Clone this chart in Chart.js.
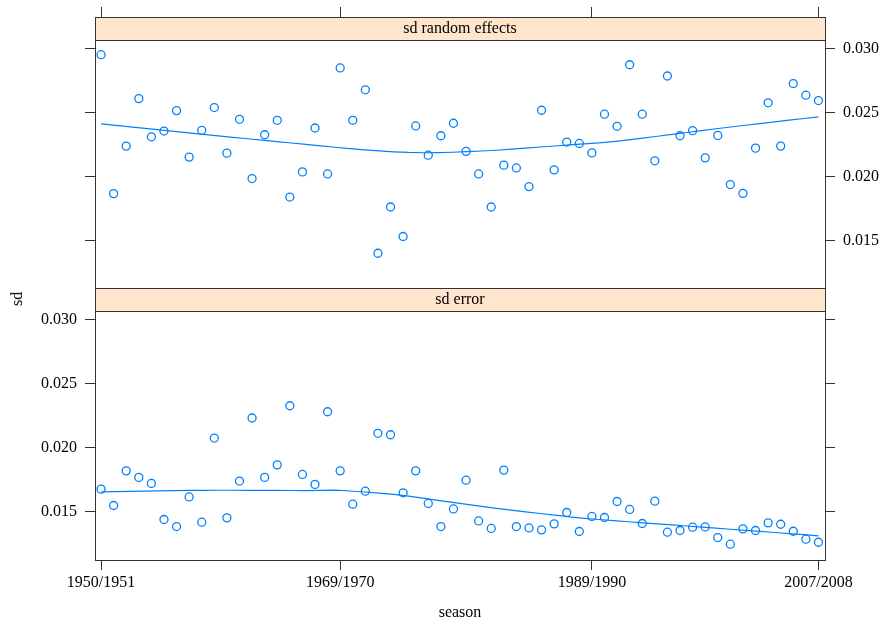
<!DOCTYPE html>
<html>
<head>
<meta charset="utf-8">
<script src="https://cdn.jsdelivr.net/npm/chart.js@4/dist/chart.umd.min.js"></script>
<style>
  html, body { margin: 0; padding: 0; background: #fff; }
  #wrap { position: relative; width: 886px; height: 628px; overflow: hidden; }
  #wrap canvas { position: absolute; left: 0; top: 0; }
  #ylab { position: absolute; left: 17px; top: 299px; font: 16px "Liberation Serif", serif; color: #000;
          transform: translate(-50%, -50%) rotate(-90deg); white-space: nowrap; }
</style>
</head>
<body>
<div id="wrap">
  <canvas id="c1" width="886" height="628"></canvas>
  <canvas id="c2" width="886" height="628"></canvas>
  <div id="ylab">sd</div>
</div>
<script>
const seasons = ['1950/1951','1951/1952','1952/1953','1953/1954','1954/1955','1955/1956','1956/1957','1957/1958','1958/1959','1959/1960',
  '1960/1961','1961/1962','1962/1963','1963/1964','1964/1965','1965/1966','1966/1967','1967/1968','1968/1969','1969/1970',
  '1970/1971','1971/1972','1972/1973','1973/1974','1974/1975','1975/1976','1976/1977','1977/1978','1978/1979','1979/1980',
  '1980/1981','1981/1982','1982/1983','1983/1984','1984/1985','1985/1986','1986/1987','1987/1988','1988/1989','1989/1990',
  '1990/1991','1991/1992','1992/1993','1993/1994','1994/1995','1995/1996','1996/1997','1997/1998','1998/1999','1999/2000',
  '2000/2001','2001/2002','2002/2003','2003/2004','2004/2005','2005/2006','2006/2007','2007/2008'];

const sdRandomEffects = [0.02955,0.01867,0.02239,0.02611,0.02312,0.02357,0.02517,0.02153,0.02363,0.02541,
  0.02184,0.02449,0.01985,0.02328,0.02441,0.01840,0.02037,0.02381,0.02021,0.02851,
  0.02441,0.02680,0.01400,0.01762,0.01531,0.02397,0.02168,0.02320,0.02418,0.02198,
  0.02021,0.01762,0.02090,0.02068,0.01922,0.02520,0.02053,0.02271,0.02260,0.02186,
  0.02489,0.02394,0.02876,0.02489,0.02124,0.02788,0.02320,0.02360,0.02147,0.02323,
  0.01938,0.01869,0.02223,0.02578,0.02239,0.02729,0.02638,0.02596];

const sdError = [0.01675,0.01547,0.01818,0.01767,0.01720,0.01437,0.01382,0.01614,0.01416,0.02075,
  0.01450,0.01738,0.02232,0.01767,0.01865,0.02328,0.01790,0.01712,0.02281,0.01818,
  0.01557,0.01659,0.02112,0.02101,0.01646,0.01818,0.01563,0.01382,0.01520,0.01745,
  0.01426,0.01367,0.01824,0.01382,0.01371,0.01356,0.01403,0.01492,0.01343,0.01461,
  0.01453,0.01578,0.01516,0.01406,0.01581,0.01338,0.01351,0.01377,0.01379,0.01296,
  0.01244,0.01364,0.01351,0.01411,0.01400,0.01345,0.01283,0.01259];

const xTickSeasons = ['1950/1951','1969/1970','1989/1990','2007/2008'];
const yTicks = [0.015, 0.020, 0.025, 0.030];
const panelTitles = ['sd random effects', 'sd error'];

const COL = '#0080ff';
const AX = '#333333';
const FONT = '"Liberation Serif", "Times New Roman", serif';
Chart.defaults.font.family = FONT;
Chart.defaults.font.size = 16;
Chart.defaults.color = '#000';

// loess smoother (degree 1, span 2/3, symmetric family) as lattice's panel.loess
function loess(xs, ys, span, evalXs, iterations) {
  const n = xs.length;
  const q = Math.floor(n * span);
  let robust = new Array(n).fill(1);
  function fitAt(x0) {
    const d = xs.map(x => Math.abs(x - x0));
    const sorted = d.slice().sort((a, b) => a - b);
    const h = sorted[q - 1] * 1.000001;
    let sw = 0, sx = 0, sy = 0;
    const w = new Array(n);
    for (let i = 0; i < n; i++) {
      const u = d[i] / h;
      w[i] = u < 1 ? Math.pow(1 - u * u * u, 3) * robust[i] : 0;
      sw += w[i]; sx += w[i] * xs[i]; sy += w[i] * ys[i];
    }
    const mx = sx / sw, my = sy / sw;
    let sxx = 0, sxy = 0;
    for (let i = 0; i < n; i++) { sxx += w[i] * (xs[i] - mx) ** 2; sxy += w[i] * (xs[i] - mx) * (ys[i] - my); }
    const b = sxx > 0 ? sxy / sxx : 0;
    return my + b * (x0 - mx);
  }
  for (let it = 0; it < iterations; it++) {
    if (it === iterations - 1) break;
    const res = xs.map((x, i) => ys[i] - fitAt(x));
    const abs = res.map(Math.abs).sort((a, b) => a - b);
    const med = n % 2 ? abs[(n - 1) / 2] : (abs[n / 2 - 1] + abs[n / 2]) / 2;
    const c = 6 * med;
    robust = res.map(r => { const u = Math.abs(r) / c; return u < 1 ? (1 - u * u) ** 2 : 0; });
  }
  return evalXs.map(x => ({ x: x, y: fitAt(x) }));
}

const idx = seasons.map((s, i) => i);
const evalXs = [];
for (let k = 0; k < 50; k++) evalXs.push(idx[0] + (idx[idx.length - 1] - idx[0]) * k / 49);

const X_MIN = -0.48, X_MAX = 57.52;
const Y_MIN = 0.0112, Y_MAX = 0.0307;

const xTickIdx = xTickSeasons.map(s => seasons.indexOf(s));

const stripPlugin = {
  id: 'strip',
  afterDraw(chart, args, opts) {
    const { ctx, chartArea: a } = chart;
    ctx.save();
    ctx.fillStyle = '#ffe5cc';
    ctx.fillRect(a.left, a.top - 23, a.right - a.left, 23);
    ctx.strokeStyle = AX;
    ctx.lineWidth = 1;
    ctx.strokeRect(Math.round(a.left) + 0.5, Math.round(a.top - 23) + 0.5, Math.round(a.right - a.left), 23);
    ctx.strokeRect(Math.round(a.left) + 0.5, Math.round(a.top) + 0.5, Math.round(a.right - a.left), Math.round(a.bottom - a.top));
    ctx.fillStyle = '#000';
    ctx.font = '16px ' + FONT;
    ctx.textAlign = 'center';
    ctx.textBaseline = 'middle';
    ctx.fillText(opts.title, (a.left + a.right) / 2, a.top - 11);
    ctx.restore();
  }
};

function yAxis(pos, width, showLabels, pad) {
  return {
    type: 'linear', position: pos, min: Y_MIN, max: Y_MAX,
    afterBuildTicks: s => { s.ticks = yTicks.map(v => ({ value: v })); },
    afterFit: s => { s.width = width; },
    grid: { drawOnChartArea: false, drawTicks: true, tickLength: 10, color: AX },
    border: { display: true, color: AX },
    ticks: { display: showLabels, padding: pad, callback: v => Number(v).toFixed(3) }
  };
}

function makePanel(canvasId, values, title, top) {
  const pts = values.map((v, i) => ({ x: idx[i], y: v }));
  const smooth = loess(idx, values, 2 / 3, evalXs, 4);
  const scales = top ? {
    x: {
      type: 'linear', position: 'top', min: X_MIN, max: X_MAX,
      afterBuildTicks: s => { s.ticks = xTickIdx.map(v => ({ value: v })); },
      afterFit: s => { s.height = 33; },
      grid: { drawOnChartArea: false, drawTicks: true, tickLength: 33, color: AX },
      border: { display: true, color: AX },
      ticks: { display: false }
    },
    y: yAxis('left', 10, false, 0),
    yr: yAxis('right', 61, true, 8)
  } : {
    x: {
      type: 'linear', position: 'bottom', min: X_MIN, max: X_MAX,
      afterBuildTicks: s => { s.ticks = xTickIdx.map(v => ({ value: v })); },
      afterFit: s => { s.height = 68; },
      grid: { drawOnChartArea: false, drawTicks: true, tickLength: 10, color: AX },
      border: { display: true, color: AX },
      ticks: { display: true, padding: 3, autoSkip: false, maxRotation: 0,
               callback: v => seasons[Math.round(v)] },
      title: { display: true, text: 'season', padding: { top: 0, bottom: 6 } }
    },
    y: yAxis('left', 95, true, 8),
    yr: yAxis('right', 10, false, 0)
  };
  return new Chart(document.getElementById(canvasId), {
    type: 'scatter',
    data: {
      datasets: [
        { data: pts, showLine: false, pointStyle: 'circle', pointRadius: 4, pointHoverRadius: 4,
          borderColor: COL, backgroundColor: 'rgba(0,0,0,0)', pointBorderWidth: 1.3, borderWidth: 1.3 },
        { data: smooth, showLine: true, pointRadius: 0, borderColor: COL, borderWidth: 1.2,
          backgroundColor: 'rgba(0,0,0,0)', tension: 0 }
      ]
    },
    options: {
      responsive: false, animation: false, devicePixelRatio: 1,
      layout: { padding: top ? { left: 85, right: 0, top: 7, bottom: 339 }
                             : { left: 0, right: 51, top: 311, bottom: 0 } },
      plugins: { legend: { display: false }, tooltip: { enabled: false }, strip: { title: title } },
      scales: scales
    },
    plugins: [stripPlugin]
  });
}

makePanel('c1', sdRandomEffects, panelTitles[0], true);
makePanel('c2', sdError, panelTitles[1], false);
</script>
</body>
</html>
